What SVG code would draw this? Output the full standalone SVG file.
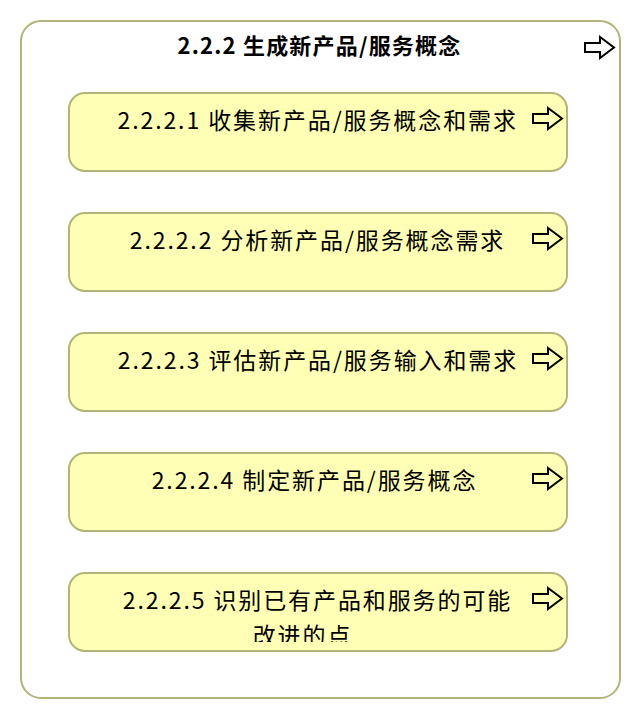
<svg xmlns="http://www.w3.org/2000/svg" width="640" height="720" viewBox="0 0 640 720">
<style>
.outer{fill:#ffffff;stroke:#b3b37a;stroke-width:2}
.box{fill:#ffffb5;stroke:#b3b37a;stroke-width:2}
.t{font-family:"Noto Sans CJK SC","Liberation Sans",sans-serif;font-size:23px;letter-spacing:1.9px;fill:#000;text-anchor:middle}
.tb{font-family:"Noto Sans CJK SC","Liberation Sans",sans-serif;font-size:22px;letter-spacing:1.2px;font-weight:bold;fill:#000;text-anchor:middle}
.arr{fill:none;stroke:#000;stroke-width:2;stroke-linejoin:miter}
</style>
<defs>
<path id="arrow" class="arr" d="M0,6 H15 V0 L29,10.5 L15,21 V15 H0 Z"/>
<clipPath id="c5"><rect x="69" y="573" width="498" height="69"/></clipPath>
</defs>
<g id="n222">
<rect class="outer" x="21" y="21" width="599" height="677" rx="20"/>
<text class="tb" x="319.5" y="54">2.2.2 生成新产品/服务概念</text>
<use href="#arrow" x="585" y="37"/>
</g>
<g id="n2221">
<rect class="box" x="69" y="93" width="498" height="78" rx="16"/>
<text class="t" x="317.7" y="129">2.2.2.1 收集新产品/服务概念和需求</text>
<use href="#arrow" x="533" y="108"/>
</g>
<g id="n2222">
<rect class="box" x="69" y="213" width="498" height="78" rx="16"/>
<text class="t" x="317.5" y="249">2.2.2.2 分析新产品/服务概念需求</text>
<use href="#arrow" x="533" y="228"/>
</g>
<g id="n2223">
<rect class="box" x="69" y="333" width="498" height="78" rx="16"/>
<text class="t" x="318" y="369">2.2.2.3 评估新产品/服务输入和需求</text>
<use href="#arrow" x="533" y="348"/>
</g>
<g id="n2224">
<rect class="box" x="69" y="453" width="498" height="78" rx="16"/>
<text class="t" x="314.5" y="489">2.2.2.4 制定新产品/服务概念</text>
<use href="#arrow" x="533" y="468"/>
</g>
<g id="n2225">
<rect class="box" x="69" y="573" width="498" height="78" rx="16"/>
<g clip-path="url(#c5)">
<text class="t" x="317.5" y="609">2.2.2.5 识别已有产品和服务的可能</text>
<text class="t" x="302.5" y="644">改进的点</text>
</g>
<use href="#arrow" x="533" y="588"/>
</g>
<g id="connectors"></g>
</svg>
